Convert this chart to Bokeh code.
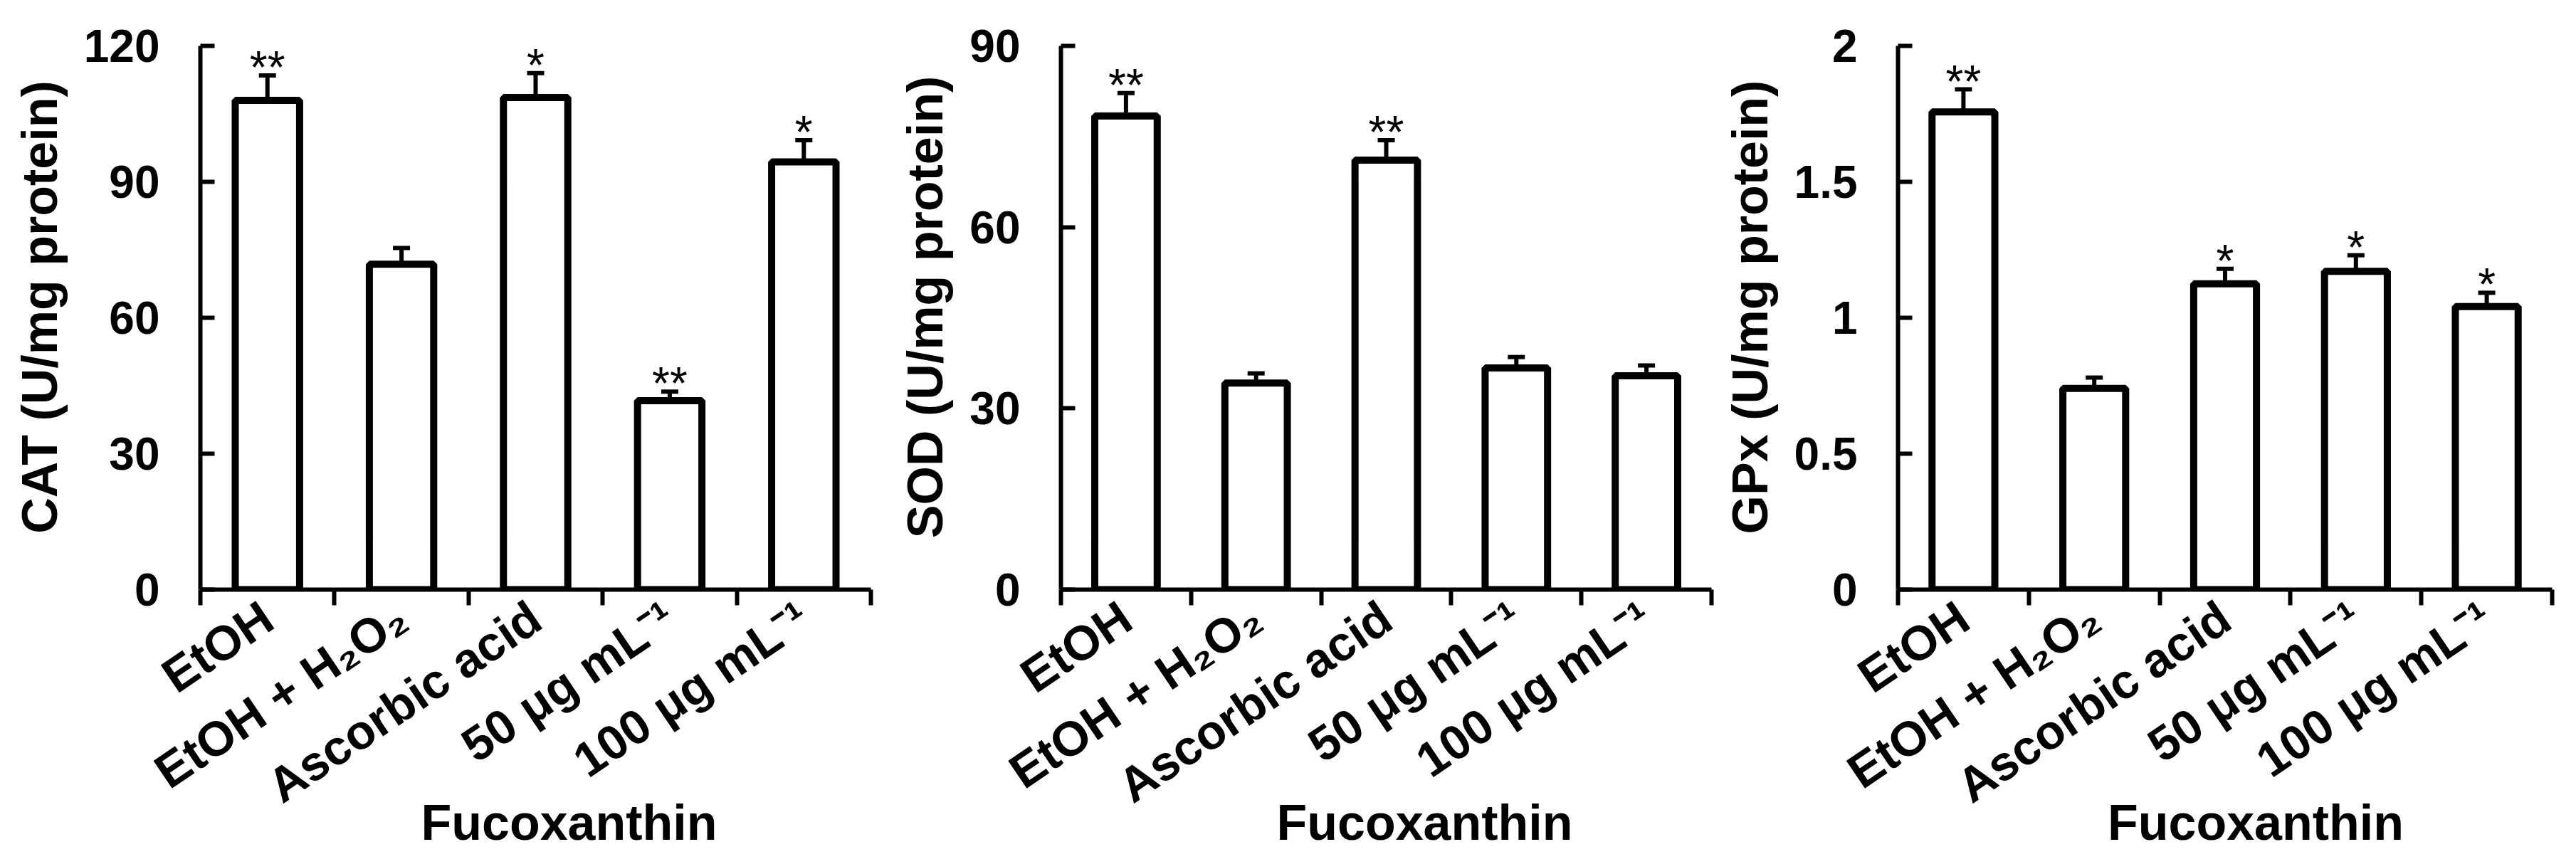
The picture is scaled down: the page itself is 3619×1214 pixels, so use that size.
import numpy as np
from bokeh.plotting import figure
from bokeh.models import (Range1d, FixedTicker, Whisker, TeeHead,
                          ColumnDataSource, LinearAxis)
from bokeh.layouts import row
from bokeh.embed import file_html
from bokeh.resources import INLINE
from bokeh.core.properties import value

# ---------------- data ----------------
categories = ["EtOH", "EtOH + H₂O₂", "Ascorbic acid", "50 μg mL⁻¹", "100 μg mL⁻¹"]
x_title = "Fucoxanthin"

cat_mean = [108.0, 71.8, 108.6, 41.7, 94.4]
cat_err = [5.5, 3.6, 5.4, 2.0, 4.8]
cat_sig = ["**", "", "*", "**", "*"]
cat_ticks = [0, 30, 60, 90, 120]
cat_label = "CAT (U/mg protein)"

sod_mean = [78.4, 34.2, 71.1, 36.7, 35.4]
sod_err = [3.8, 1.6, 3.3, 1.8, 1.7]
sod_sig = ["**", "", "**", "", ""]
sod_ticks = [0, 30, 60, 90]
sod_label = "SOD (U/mg protein)"

gpx_mean = [1.757, 0.740, 1.125, 1.171, 1.041]
gpx_err = [0.083, 0.040, 0.055, 0.059, 0.051]
gpx_sig = ["**", "", "*", "*", "*"]
gpx_ticks = [0, 0.5, 1, 1.5, 2]
gpx_tick_labels = ["0", "0.5", "1", "1.5", "2"]
gpx_label = "GPx (U/mg protein)"

FONT = "Liberation Sans"
HEIGHT = 1198
TOP = 64          # page y of the top tick (72) minus 8px margin
AXIS_H = 764      # pixels between 0 and the top tick
EXTRA = 30        # headroom above the top tick so the stars are not clipped


def make_panel(width, left, frame_w, means, errs, sigs, ticks, tick_labels,
               ylabel, title_shift):
    n = len(categories)
    xs = np.arange(n) + 0.5
    ymax = ticks[-1]
    frame_h = AXIS_H + EXTRA
    p = figure(width=width, height=HEIGHT,
               x_range=Range1d(0, n),
               y_range=Range1d(0, ymax * frame_h / AXIS_H),
               output_backend="svg", toolbar_location=None,
               min_border_left=left, min_border_right=width - left - frame_w,
               min_border_top=TOP - EXTRA,
               min_border_bottom=HEIGHT - TOP - AXIS_H)
    p.outline_line_color = None
    p.xgrid.grid_line_color = None
    p.ygrid.grid_line_color = None
    p.background_fill_color = "white"
    p.border_fill_color = "white"

    means = np.array(means, dtype=float)
    errs = np.array(errs, dtype=float)

    p.vbar(x=xs, top=means, bottom=0, width=0.48, fill_color="white",
           line_color="black", line_width=10)

    src = ColumnDataSource(dict(x=xs, lower=means, upper=means + errs))
    w = Whisker(base="x", lower="lower", upper="upper", source=src,
                dimension="height", line_width=6, line_color="black",
                upper_head=TeeHead(size=24, line_width=6, line_color="black"),
                lower_head=None)
    p.add_layout(w)

    p.text(x=xs, y=means + errs, text=sigs, text_align="center",
           text_baseline="alphabetic", text_font=value(FONT),
           text_font_size="64px", text_color="black", y_offset=-11)

    # x axis with category labels between boundary ticks
    xa = p.xaxis[0]
    xa.ticker = FixedTicker(ticks=list(xs), minor_ticks=list(range(n + 1)))
    xa.major_label_overrides = {float(x): c for x, c in zip(xs, categories)}
    xa.major_label_orientation = 0.595
    xa.major_label_text_font = FONT
    xa.major_label_text_font_style = "bold"
    xa.major_label_text_font_size = "68px"
    xa.major_label_text_color = "black"
    xa.major_label_standoff = 10
    xa.major_tick_in = 0
    xa.major_tick_out = 0
    xa.major_tick_line_color = None
    xa.minor_tick_in = 0
    xa.minor_tick_out = 22
    xa.minor_tick_line_width = 6
    xa.minor_tick_line_color = "black"
    xa.axis_line_width = 6
    xa.axis_line_color = "black"

    # second (label-only) axis carrying the x title as a single tick label
    px_per_unit = frame_w / n
    t_pos = float(n / 2 + title_shift / px_per_unit)
    ax2 = LinearAxis(ticker=FixedTicker(ticks=[t_pos]),
                     major_label_overrides={t_pos: x_title},
                     axis_line_color=None, major_tick_line_color=None,
                     minor_tick_line_color=None, major_tick_in=0,
                     major_tick_out=0, minor_tick_in=0, minor_tick_out=0,
                     major_label_standoff=-60,
                     major_label_text_font=FONT,
                     major_label_text_font_style="bold",
                     major_label_text_font_size="70px",
                     major_label_text_color="black")
    p.add_layout(ax2, "below")

    # y axis
    ya = p.yaxis[0]
    ya.bounds = (0, ymax)
    ya.ticker = FixedTicker(ticks=list(ticks))
    ya.major_label_overrides = {t: l for t, l in zip(ticks, tick_labels)}
    ya.major_label_text_font = FONT
    ya.major_label_text_font_style = "bold"
    ya.major_label_text_font_size = "64px"
    ya.major_label_text_color = "black"
    ya.major_label_standoff = 57
    ya.major_tick_in = 20
    ya.major_tick_out = 0
    ya.major_tick_line_width = 6
    ya.minor_tick_line_color = None
    ya.axis_line_width = 6
    ya.axis_label = ylabel
    ya.axis_label_text_font = FONT
    ya.axis_label_text_font_style = "bold"
    ya.axis_label_text_font_size = "70px"
    ya.axis_label_text_color = "black"
    ya.axis_label_standoff = 20
    return p


p1 = make_panel(1247, 281, 942, cat_mean, cat_err, cat_sig, cat_ticks,
                [str(t) for t in cat_ticks], cat_label, 47)
p2 = make_panel(1163, 243, 914, sod_mean, sod_err, sod_sig, sod_ticks,
                [str(t) for t in sod_ticks], sod_label, 54)
p3 = make_panel(1193, 256, 919, gpx_mean, gpx_err, gpx_sig, gpx_ticks,
                gpx_tick_labels, gpx_label, 43)

layout = row(p1, p2, p3)
open("out.html", "w").write(file_html(layout, INLINE))
